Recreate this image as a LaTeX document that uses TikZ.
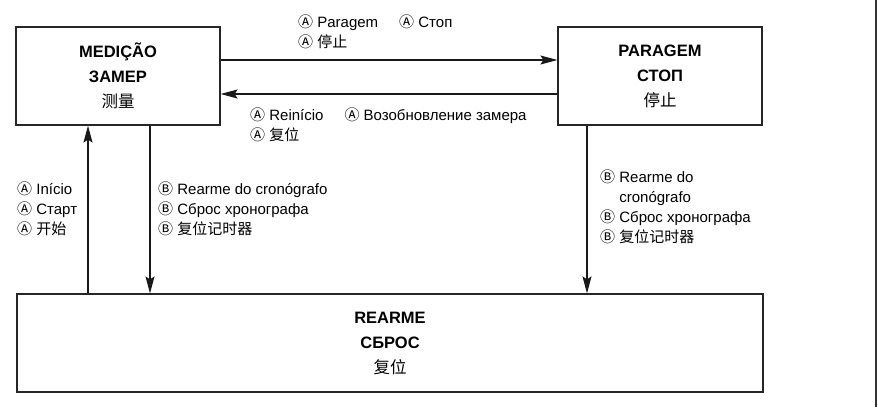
\documentclass[tikz,border=0pt]{standalone}
\usepackage{fontspec}
\setmainfont{Liberation Sans}
\newfontfamily\cjkfont{Noto Sans CJK SC}
\usetikzlibrary{arrows.meta}
\newcommand{\ca}{{\cjkfont Ⓐ}}
\newcommand{\cb}{{\cjkfont Ⓑ}}

\begin{document}
\begin{tikzpicture}[
  x=1pt, y=-1pt,
  stbox/.style={draw=black!85, line width=1.2pt, align=center, minimum width=204pt, minimum height=98pt, inner sep=0pt, font=\fontsize{16.5}{25}\selectfont\bfseries},
  lbl/.style={anchor=base west, align=left, inner sep=0pt, font=\fontsize{15}{20}\selectfont},
  flow/.style={-{Stealth[length=17pt,width=9pt,inset=3pt]}, draw=black!90, line width=1.3pt},
]
\useasboundingbox (0,0) rectangle (878,407);
% states
\node[stbox] (meas) at (118,76) {MEDIÇÃO\\ЗАМЕР\\{\cjkfont\mdseries 测量}};
\node[stbox] (stop) at (660,76) {PARAGEM\\СТОП\\{\cjkfont\mdseries 停止}};
\node[stbox, minimum width=746pt] (reset) at (390,343) {REARME\\СБРОС\\{\cjkfont\mdseries 复位}};
% transitions
\draw[flow] (meas.east |- 0,60) -- (stop.west |- 0,60);
\draw[flow] (stop.west |- 0,94) -- (meas.east |- 0,94);
\draw[flow] (reset.north -| 88,0) -- (meas.south -| 88,0);
\draw[flow] (meas.south -| 150,0) -- (reset.north -| 150,0);
\draw[flow] (stop.south -| 587,0) -- (reset.north -| 587,0);
% labels (anchored at the baseline of their last line)
\node[lbl] (lstop) at (298,47) {\ca\ Paragem\hspace*{21pt}\ca\ Стоп\\\ca\ {\cjkfont 停止}};
\node[lbl] (lrestart) at (250,140) {\ca\ Reinício\hspace*{21pt}\ca\ Возобновление замера\\\ca\ {\cjkfont 复位}};
\node[lbl] (lstart) at (17,234) {\ca\ Início\\\ca\ Старт\\\ca\ {\cjkfont 开始}};
\node[lbl] (lreset) at (158,234) {\cb\ Rearme do cronógrafo\\\cb\ Сброс хронографа\\\cb\ {\cjkfont 复位记时器}};
\node[lbl] (lreset2) at (600,242) {\cb\ Rearme do\\\hphantom{\cb\ }cronógrafo\\\cb\ Сброс хронографа\\\cb\ {\cjkfont 复位记时器}};
% page edge
\draw[draw=black!80, line width=1.2pt] (876,0) -- (876,407);
\end{tikzpicture}
\end{document}
